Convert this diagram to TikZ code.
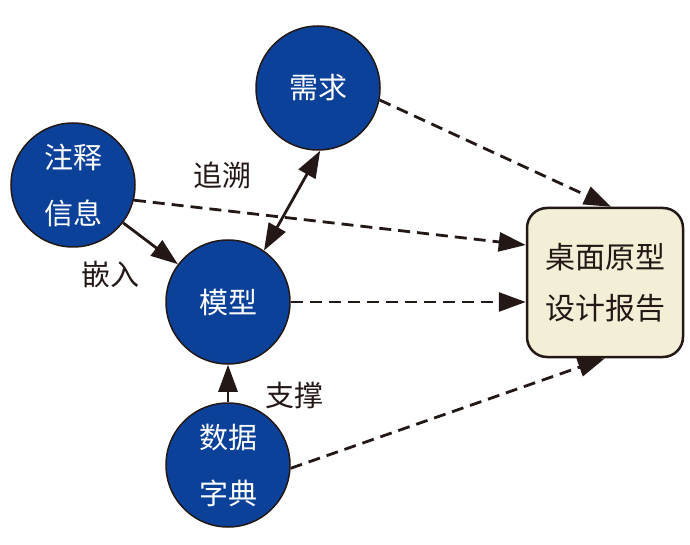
\documentclass[tikz,border=0pt]{standalone}
\usepackage{fontspec}
\newfontfamily\cjk{Noto Sans CJK SC}
\usepackage{tikz}
\usetikzlibrary{shapes, arrows.meta, positioning, calc, backgrounds}
\definecolor{nodeblue}{RGB}{11,65,153}
\definecolor{reportfill}{RGB}{242,239,214}
\definecolor{inkline}{RGB}{35,24,21}
\tikzset{
    concept/.style={circle, draw=inkline, line width=1.5pt, fill=nodeblue, text=white, minimum size=124pt, inner sep=0pt, align=center, font=\cjk\fontsize{29}{56}\selectfont},
    report/.style={rectangle, draw=inkline, line width=2.5pt, rounded corners=20pt, fill=reportfill, minimum width=156pt, minimum height=149pt, align=center, text=inkline, font=\cjk\fontsize{30}{51}\selectfont},
    arrow/.style={draw=inkline, line width=2.8pt, -{Triangle[length=27pt, width=19pt]}},
    twoway/.style={arrow, {Triangle[length=27pt, width=19pt]}-{Triangle[length=27pt, width=19pt]}},
    dasharrow/.style={arrow, dash pattern=on 12pt off 7pt},
    tag/.style={text=inkline, font=\cjk\fontsize{29}{34}\selectfont}
}
\begin{document}
\begin{tikzpicture}[x=1pt, y=1pt]
    \useasboundingbox (0,0) rectangle (690,544);

    \node[concept] (xuqiu) at (318,456) {需求};
    \node[concept] (zhushi) at (73,359) {注释\\信息};
    \node[concept] (moxing) at (228,242) {模型};
    \node[concept] (shuju) at (228,79) {数据\\字典};
    \node[report] (baogao) at (605,261.5) {桌面原型\\设计报告};

    \node[tag] (zhuisu) at (222,369) {追溯};
    \node[tag] (qianru) at (110,270) {嵌入};
    \node[tag] (zhicheng) at (294,149) {支撑};

    \path[arrow] (zhushi) -- (moxing);
    \path[twoway] (moxing.55) -- (xuqiu.-88);
    \path[arrow] (shuju) -- (moxing);

    % dashed links go under the report box
    \begin{scope}[on background layer]
        \path[dasharrow] (xuqiu.-11) -- ([xshift=6pt]baogao.north);
        \path[dasharrow] (zhushi.-14) -- ([yshift=37.5pt]baogao.west);
        \path[dasharrow] (moxing.east) -- (moxing.east -| baogao.west);
        \path[dasharrow] (shuju.-3) -- (baogao.south);
    \end{scope}
\end{tikzpicture}
\end{document}
